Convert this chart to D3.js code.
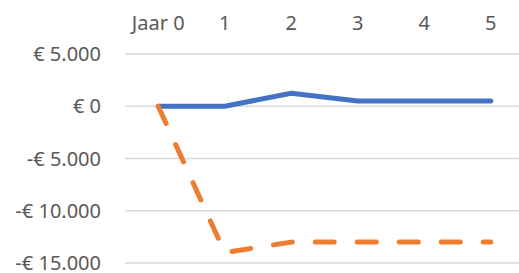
<!DOCTYPE html>
<html>
<head>
<meta charset="utf-8">
<style>
    body { margin: 0; background: #fff; }
    svg { display: block; font-family: 'Noto Sans', sans-serif; }
    .lbl { font-size: 20px; fill: #595959; }
</style>
</head>
<body>
<svg width="519" height="273"></svg>
<script src="https://d3js.org/d3.v7.min.js"></script>
<script>
    // chart data
    let categories = ["Jaar 0", "1", "2", "3", "4", "5"];
    let seriesBlue = [0, 0, 1250, 500, 500, 500];
    let seriesOrange = [0, -14000, -13000, -13000, -13000, -13000];
    let yTicks = [5000, 0, -5000, -10000, -15000];

    let svg = d3.select("svg");
    let plotLeft = 125, plotRight = 524, plotTop = 54, plotBottom = 263;

    let x = d3.scaleBand().domain(categories).range([plotLeft, plotRight]);
    let y = d3.scaleLinear().domain([-15000, 5000]).range([plotBottom, plotTop]);

    // euro format like Excel: € 5.000 / -€ 5.000
    function fmt(v) {
        let s = d3.format(",")(Math.abs(v)).replace(/,/g, ".");
        return (v < 0 ? "-€ " : "€ ") + s;
    }

    // gridlines
    svg.append("g")
        .selectAll("line")
        .data(yTicks)
        .join("line")
        .attr("x1", plotLeft)
        .attr("x2", 519)
        .attr("y1", d => y(d))
        .attr("y2", d => y(d))
        .attr("stroke", "#d9d9d9")
        .attr("stroke-width", 1.5);

    // y labels
    svg.append("g")
        .selectAll("text")
        .data(yTicks)
        .join("text")
        .attr("class", "lbl")
        .attr("x", 101)
        .attr("y", d => y(d))
        .attr("dy", "0.35em")
        .attr("text-anchor", "end")
        .text(fmt);

    // x labels on top
    svg.append("g")
        .selectAll("text")
        .data(categories)
        .join("text")
        .attr("class", "lbl")
        .attr("x", d => x(d) + x.bandwidth() / 2)
        .attr("y", 23)
        .attr("dy", "0.35em")
        .attr("text-anchor", "middle")
        .text(d => d);

    let line = d3.line()
        .x((d, i) => x(categories[i]) + x.bandwidth() / 2)
        .y(d => y(d));

    svg.append("path")
        .attr("d", line(seriesBlue))
        .attr("fill", "none")
        .attr("stroke", "#4472c4")
        .attr("stroke-width", 5)
        .attr("stroke-linecap", "round")
        .attr("stroke-linejoin", "round");

    svg.append("path")
        .attr("d", line(seriesOrange))
        .attr("fill", "none")
        .attr("stroke", "#ed7d31")
        .attr("stroke-width", 5)
        .attr("stroke-dasharray", "19,23")
        .attr("stroke-linecap", "round")
        .attr("stroke-linejoin", "round");
</script>
</body>
</html>
